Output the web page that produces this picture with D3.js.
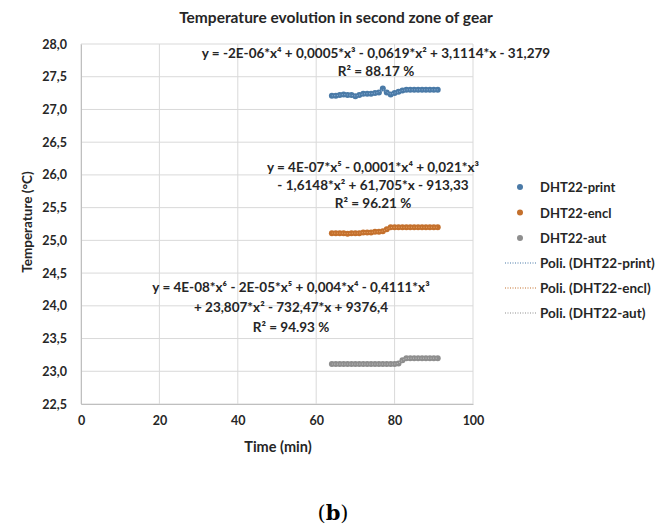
<!DOCTYPE html>
<html>
<head>
<meta charset="utf-8">
<script src="https://cdnjs.cloudflare.com/ajax/libs/d3/7.8.5/d3.min.js"></script>
<style>
  body { margin: 0; background: #fff; }
  svg text { font-family: Lato, "Open Sans", sans-serif; font-weight: bold; fill: #262626; }
</style>
</head>
<body>
<svg id="chart"></svg>
<script>
// Values
const times = [64, 65, 66, 67, 68, 69, 70, 71, 72, 73, 74, 75, 76, 77,
               78, 79, 80, 81, 82, 83, 84, 85, 86, 87, 88, 89, 90, 91];
const printTemps = [27.21, 27.21, 27.22, 27.23, 27.22, 27.22, 27.20, 27.22, 27.24, 27.24, 27.24, 27.25, 27.26, 27.32,
                    27.26, 27.23, 27.25, 27.27, 27.29, 27.30, 27.30, 27.30, 27.30, 27.30, 27.30, 27.30, 27.30, 27.30];
const enclTemps = [25.11, 25.11, 25.11, 25.11, 25.10, 25.11, 25.11, 25.11, 25.12, 25.12, 25.12, 25.13, 25.13, 25.14,
                   25.17, 25.20, 25.20, 25.20, 25.20, 25.20, 25.20, 25.20, 25.20, 25.20, 25.20, 25.20, 25.20, 25.20];
const autTemps = [23.11, 23.11, 23.11, 23.11, 23.11, 23.11, 23.11, 23.11, 23.11, 23.11, 23.11, 23.11, 23.11, 23.11,
                  23.11, 23.11, 23.11, 23.12, 23.17, 23.20, 23.20, 23.20, 23.20, 23.20, 23.20, 23.20, 23.20, 23.20];

const seriesNames = ['DHT22-print', 'DHT22-encl', 'DHT22-aut'];
const trendNames = ['Poli. (DHT22-print)', 'Poli. (DHT22-encl)', 'Poli. (DHT22-aut)'];
const xTicks = [0, 20, 40, 60, 80, 100];
const yTicks = [22.5, 23, 23.5, 24, 24.5, 25, 25.5, 26, 26.5, 27, 27.5, 28];

const printEq = ['y = -2E-06*x⁴ + 0,0005*x³ - 0,0619*x² + 3,1114*x - 31,279', 'R² = 88.17 %'];
const enclEq = ['y = 4E-07*x⁵ - 0,0001*x⁴ + 0,021*x³', '- 1,6148*x² + 61,705*x - 913,33', 'R² = 96.21 %'];
const autEq = ['y = 4E-08*x⁶ - 2E-05*x⁵ + 0,004*x⁴ - 0,4111*x³', '+ 23,807*x² - 732,47*x + 9376,4', 'R² = 94.93 %'];

const WIDTH = 670, HEIGHT = 529;
const colors = ['#4a7aa7', '#c4702c', '#8e8e8e'];
const trendColors = ['#8fb3d9', '#e6a46b', '#c4c4c4'];

const svg = d3.select('#chart').attr('width', WIDTH).attr('height', HEIGHT);

const xScale = d3.scaleLinear().domain([0, 100]).range([81, 473]);
const yScale = d3.scaleLinear().domain([22.5, 28]).range([404, 44]);

// grid
svg.append('g').selectAll('line.h')
    .data(yTicks)
    .enter().append('line')
    .attr('x1', xScale(0)).attr('x2', xScale(100))
    .attr('y1', d => yScale(d)).attr('y2', d => yScale(d))
    .attr('stroke', '#d9d9d9').attr('stroke-width', 1);
svg.append('g').selectAll('line.v')
    .data(xTicks)
    .enter().append('line')
    .attr('x1', d => xScale(d)).attr('x2', d => xScale(d))
    .attr('y1', yScale(22.5)).attr('y2', yScale(28))
    .attr('stroke', '#d9d9d9').attr('stroke-width', 1);

// axes
const xAxis = d3.axisBottom(xScale).tickValues(xTicks).tickSize(0).tickPadding(12);
const yAxis = d3.axisLeft(yScale).tickValues(yTicks).tickSize(0).tickPadding(14)
    .tickFormat(d => d3.format('.1f')(d).replace('.', ','));

svg.append('g')
    .attr('transform', `translate(0, ${yScale(22.5)})`)
    .call(xAxis)
    .call(g => g.select('.domain').attr('stroke', '#bfbfbf'))
    .selectAll('text').style('font-size', '12.5px');
svg.append('g')
    .attr('transform', `translate(${xScale(0)}, 0)`)
    .call(yAxis)
    .call(g => g.select('.domain').attr('stroke', '#bfbfbf'))
    .selectAll('text').style('font-size', '12.5px');

// titles
svg.append('text').attr('x', 336).attr('y', 23).attr('text-anchor', 'middle')
    .style('font-size', '15.5px').text('Temperature evolution in second zone of gear');
svg.append('text').attr('x', 278).attr('y', 452).attr('text-anchor', 'middle')
    .style('font-size', '14.5px').text('Time (min)');
svg.append('text').attr('transform', 'translate(32, 222) rotate(-90)').attr('text-anchor', 'middle')
    .style('font-size', '13.5px').text('Temperature (°C)');

// series
const allSeries = [printTemps, enclTemps, autTemps];
const line = d3.line().x((d, i) => xScale(times[i])).y(d => yScale(d)).curve(d3.curveBasis);

allSeries.forEach((vals, k) => {
    svg.append('g').selectAll('circle')
        .data(vals)
        .enter().append('circle')
        .attr('cx', (d, i) => xScale(times[i]))
        .attr('cy', d => yScale(d))
        .attr('r', 3)
        .attr('fill', colors[k]);
    svg.append('path')
        .datum(vals)
        .attr('d', line)
        .attr('fill', 'none')
        .attr('stroke', trendColors[k])
        .attr('stroke-width', 1)
        .attr('stroke-dasharray', '1,1.5');
});

// equations
function eqBlock(lines, x, y0, dy) {
    svg.append('g').selectAll('text')
        .data(lines)
        .enter().append('text')
        .attr('x', x).attr('y', (d, i) => y0 + i * dy)
        .attr('text-anchor', 'middle')
        .style('font-size', '13.5px')
        .text(d => d);
}
eqBlock(printEq, 376, 58, 18);
eqBlock(enclEq, 373, 172, 18);
eqBlock(autEq, 291, 292, 20);

// legend
const legend = svg.append('g');
seriesNames.forEach((name, i) => {
    const y = 187 + i * 25.5;
    legend.append('circle').attr('cx', 520).attr('cy', y).attr('r', 3).attr('fill', colors[i]);
    legend.append('text').attr('x', 540).attr('y', y + 5).style('font-size', '13px').text(name);
});
trendNames.forEach((name, i) => {
    const y = 263 + i * 25;
    legend.append('line').attr('x1', 505).attr('x2', 537).attr('y1', y).attr('y2', y)
        .attr('stroke', colors[i]).attr('stroke-width', 1.2).attr('stroke-dasharray', '1,1.5');
    legend.append('text').attr('x', 540).attr('y', y + 5).style('font-size', '13.5px').text(name);
});

// panel label
const lbl = svg.append('text').attr('x', 333).attr('y', 520).attr('text-anchor', 'middle')
    .style('font-family', '"DejaVu Serif", "Liberation Serif", serif').style('font-weight', 'normal')
    .style('font-size', '21px').style('fill', '#000');
lbl.append('tspan').text('(');
lbl.append('tspan').style('font-weight', 'bold').text('b');
lbl.append('tspan').text(')');
</script>
</body>
</html>
